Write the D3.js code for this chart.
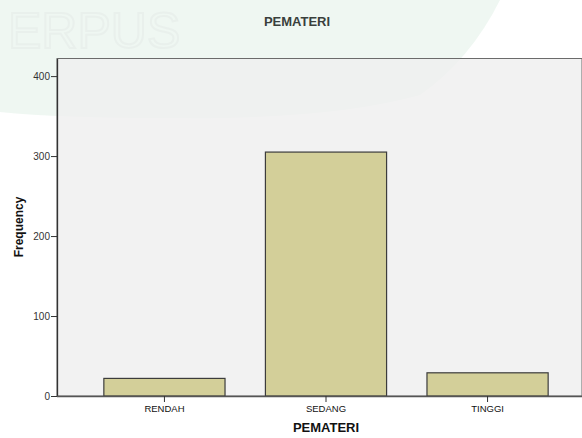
<!DOCTYPE html>
<html>
<head>
<meta charset="utf-8">
<script src="https://cdn.jsdelivr.net/npm/d3@7"></script>
<style>
  body { margin: 0; background: #fff; }
  svg { display: block; font-family: Arial, "Liberation Sans", sans-serif; }
</style>
</head>
<body>
<svg id="chart" width="582" height="438"></svg>
<script>
  // data
  let categories = ['RENDAH', 'SEDANG', 'TINGGI'];
  let frequencies = [22, 305, 29];
  let yTicks = [0, 100, 200, 300, 400];

  let svg = d3.select('#chart');
  let width = 582, height = 438;
  let plot = { left: 57, top: 58.5, bottom: 396, right: 595 };

  //
  // faint watermark behind everything
  //
  svg.append('path')
    .attr('d', 'M0,0 L500,0 Q470,60 420,95 Q330,120 170,118 Q60,118 0,112 Z')
    .attr('fill', '#e4f1ea')
    .attr('opacity', 0.6);
  svg.append('text')
    .attr('x', 8).attr('y', 48)
    .attr('font-size', 50)
    .attr('fill', 'none')
    .attr('stroke', '#e9f0ec')
    .attr('stroke-width', 2)
    .text('ERPUS');

  let x = d3.scaleBand()
    .domain(categories)
    .range([plot.left, plot.right])
    .paddingInner(0.25)
    .paddingOuter(0.29);

  let y = d3.scaleLinear()
    .domain([0, 422])
    .range([plot.bottom, plot.top]);

  // plot background
  svg.append('rect')
    .attr('x', plot.left)
    .attr('y', plot.top)
    .attr('width', width - plot.left)
    .attr('height', plot.bottom - plot.top)
    .attr('fill', '#efefef')
    .attr('fill-opacity', 0.8)
    .attr('stroke', '#6b6b6b')
    .attr('stroke-width', 1);

  //
  // bars
  //
  svg.append('g').attr('class', 'bars')
    .selectAll('rect')
    .data(categories)
    .enter().append('rect')
      .attr('x', (d) => x(d))
      .attr('y', (d, i) => y(frequencies[i]))
      .attr('width', x.bandwidth())
      .attr('height', (d, i) => y(0) - y(frequencies[i]))
      .attr('fill', '#d3cf99')
      .attr('stroke', '#3c3c3c')
      .attr('stroke-width', 1.2);

  //
  // axes
  //
  let yAxis = svg.append('g')
    .attr('transform', `translate(${plot.left},0)`)
    .call(d3.axisLeft(y).tickValues(yTicks).tickSize(6).tickPadding(1).tickSizeOuter(0));
  yAxis.select('.domain').attr('stroke', '#333').attr('stroke-width', 1.3);
  yAxis.selectAll('.tick line').attr('stroke', '#333');
  yAxis.selectAll('.tick text')
    .attr('font-size', 10)
    .attr('fill', '#333')
    .attr('font-family', 'Arial, "Liberation Sans", sans-serif');

  let xAxis = svg.append('g')
    .attr('transform', `translate(0,${plot.bottom})`)
    .call(d3.axisBottom(x).tickSize(6).tickPadding(3).tickSizeOuter(0));
  xAxis.select('.domain').attr('d', `M${plot.left},0.5H${width}`)
    .attr('stroke', '#555').attr('stroke-width', 1.3);
  xAxis.selectAll('.tick line').attr('stroke', '#333');
  xAxis.selectAll('.tick text')
    .attr('font-size', 9.5)
    .attr('fill', '#111')
    .attr('font-family', 'Arial, "Liberation Sans", sans-serif');

  //
  // titles
  //
  svg.append('text')
    .attr('x', 297).attr('y', 26)
    .attr('text-anchor', 'middle')
    .attr('font-size', 13)
    .attr('font-weight', 'bold')
    .attr('fill', '#3a3f3c')
    .text('PEMATERI');

  svg.append('text')
    .attr('x', 326).attr('y', 432)
    .attr('text-anchor', 'middle')
    .attr('font-size', 13)
    .attr('font-weight', 'bold')
    .attr('fill', '#111')
    .text('PEMATERI');

  svg.append('text')
    .attr('transform', 'translate(23,227) rotate(-90)')
    .attr('text-anchor', 'middle')
    .attr('font-size', 12)
    .attr('font-weight', 'bold')
    .attr('fill', '#111')
    .text('Frequency');
</script>
</body>
</html>
